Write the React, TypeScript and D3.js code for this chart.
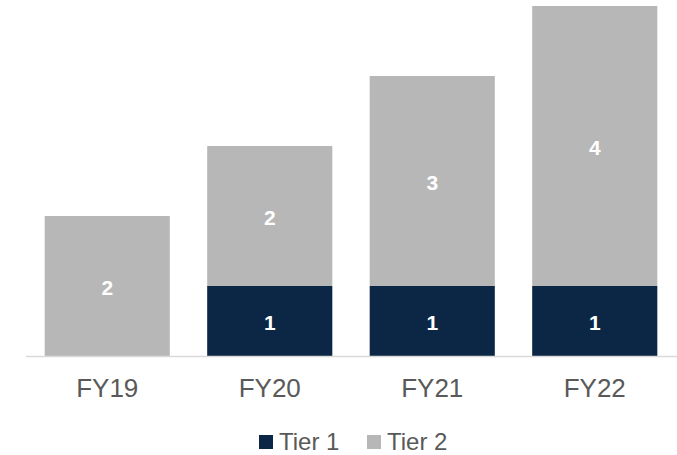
import React from "react";
import * as d3 from "d3";

const years = ["FY19", "FY20", "FY21", "FY22"];
const tier1 = [0, 1, 1, 1];
const tier2 = [2, 2, 3, 4];
const seriesNames = ["Tier 1", "Tier 2"];
const seriesColors = ["#0b2745", "#b7b7b7"];

const W = 677;
const H = 455;

export default function App() {
  // stack the two tiers per year
  const rows = years.map((y, i) => ({ year: y, t1: tier1[i], t2: tier2[i] }));
  const stacked = d3.stack<any>().keys(["t1", "t2"])(rows);

  const x = d3.scaleBand().domain(years).range([26, 676]).paddingInner(0.23).paddingOuter(0.115);
  const y = d3.scaleLinear().domain([0, 5]).range([356, 6]);

  const font = "'Liberation Sans', Arial, sans-serif";

  return (
    <div style={{ position: "absolute", left: 0, top: 0 }}>
      <svg width={W} height={H} style={{ display: "block", background: "#fff" }}>
        {stacked.map((layer, si) => (
          <g key={si} fill={seriesColors[si]}>
            {layer.map((d, i) =>
              d[1] - d[0] > 0 ? (
                <g key={i}>
                  <rect
                    x={x(years[i])}
                    y={y(d[1])}
                    width={x.bandwidth()}
                    height={y(d[0]) - y(d[1])}
                  />
                  <text
                    x={(x(years[i]) as number) + x.bandwidth() / 2}
                    y={(y(d[0]) + y(d[1])) / 2}
                    dy="0.45em"
                    textAnchor="middle"
                    fill="#fff"
                    fontWeight="bold"
                    fontSize={21}
                    fontFamily={font}
                  >
                    {d[1] - d[0]}
                  </text>
                </g>
              ) : null
            )}
          </g>
        ))}
        <line x1={26} x2={677} y1={356.5} y2={356.5} stroke="#d9d9d9" strokeWidth={1.5} />
        {years.map(yr => (
          <text
            key={yr}
            x={(x(yr) as number) + x.bandwidth() / 2}
            y={397}
            textAnchor="middle"
            fill="#595959"
            fontSize={26}
            fontFamily={font}
          >
            {yr}
          </text>
        ))}
        {/* legend */}
        {seriesNames.map((name, i) => (
          <g key={name} transform={`translate(${259 + i * 108},0)`}>
            <rect x={0} y={435} width={14} height={14} fill={seriesColors[i]} />
            <text x={20} y={450} fill="#595959" fontSize={24} fontFamily={font}>
              {name}
            </text>
          </g>
        ))}
      </svg>
    </div>
  );
}
